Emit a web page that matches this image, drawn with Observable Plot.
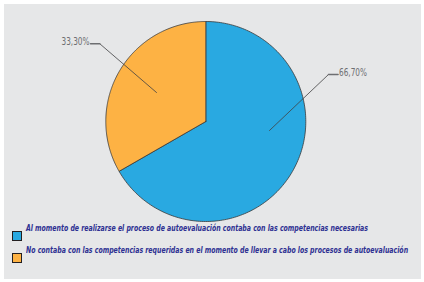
<!DOCTYPE html>
<html>
<head>
<meta charset="utf-8">
<script src="https://cdn.jsdelivr.net/npm/d3@7"></script>
<script src="https://cdn.jsdelivr.net/npm/@observablehq/plot@0.6"></script>
<style>
  html, body { margin: 0; padding: 0; background: #ffffff; }
  #wrap { position: relative; width: 424px; height: 282px; background: #ffffff; }
  #panel { position: absolute; left: 4px; top: 4px; width: 417px; height: 275px; background: #E6E7E8; overflow: hidden; }
  #panel svg { display: block; }
  .legend { position: absolute; left: 0; top: 218px; width: 417px; }
  .item { position: relative; height: 22px; }
  .item .txt { position: absolute; left: 22px; top: 1px; white-space: nowrap; transform-origin: 0 50%;
    font-family: "Liberation Sans Narrow", "DejaVu Sans Condensed", sans-serif; font-stretch: condensed;
    font-weight: bold; font-style: italic; font-size: 9.5px; color: #2E3192; line-height: 10px; }
  .item .sw { position: absolute; left: 8px; top: 9px; width: 8px; height: 8px; border: 1px solid #231F20; }
</style>
</head>
<body>
<div id="wrap"><div id="panel"><div id="chart"></div><div class="legend" id="legend"></div></div></div>
<script>
// Data
const categories = [
  "Al momento de realizarse el proceso de autoevaluación contaba con las competencias necesarias",
  "No contaba con las competencias requeridas en el momento de llevar a cabo los procesos de autoevaluación"
];
const values = [66.7, 33.3];
const valueLabels = ["66,70%", "33,30%"];
const colors = ["#29A9E1", "#FDB244"];
// Leader line anchor points in pie-radius units: [inner, elbow, end]
const leaderInner = [[0.637, -0.09], [-0.493, 0.29]];
const leaderElbow = [[1.227, 0.47], [-1.06, 0.777]];
const leaderEnd = [[1.322, 0.47], [-1.153, 0.777]];

const pie = d3.pie().sort(null).startAngle(0).endAngle(2 * Math.PI)(values);
const slicePts = [];
pie.forEach((s, i) => {
  slicePts.push({cat: categories[i], x: 0, y: 0});
  const n = 200;
  for (let k = 0; k <= n; k++) {
    const a = s.startAngle + (s.endAngle - s.startAngle) * k / n;
    slicePts.push({cat: categories[i], x: Math.sin(a), y: Math.cos(a)});
  }
  slicePts.push({cat: categories[i], x: 0, y: 0});
});
const diag = [], horiz = [], labels = [];
categories.forEach((c, i) => {
  diag.push({k: i, x: leaderInner[i][0], y: leaderInner[i][1]});
  diag.push({k: i, x: leaderElbow[i][0], y: leaderElbow[i][1]});
  horiz.push({k: i, x: leaderElbow[i][0], y: leaderElbow[i][1]});
  horiz.push({k: i, x: leaderEnd[i][0], y: leaderEnd[i][1]});
  labels.push({x: leaderEnd[i][0], y: leaderEnd[i][1], text: valueLabels[i], anchor: i === 0 ? "start" : "end"});
});

const font = '"Liberation Sans Narrow", "DejaVu Sans Condensed", sans-serif';
const chart = Plot.plot({
  width: 417, height: 218, margin: 0,
  style: {background: "transparent", fontFamily: font, overflow: "visible"},
  x: {domain: [-1, 1], range: [101.3, 301.3], axis: null},
  y: {domain: [-1, 1], range: [217, 17], axis: null},
  color: {domain: categories, range: colors},
  marks: [
    Plot.line(slicePts, {x: "x", y: "y", z: "cat", fill: "cat", stroke: "#3a3a3a", strokeWidth: 0.8, curve: "linear"}),
    Plot.line(diag, {x: "x", y: "y", z: "k", stroke: "#404041", strokeWidth: 0.8}),
    Plot.line(horiz, {x: "x", y: "y", z: "k", stroke: "#6D6E71", strokeWidth: 1.6}),
    Plot.text(labels.filter(d => d.anchor === "start"), {x: "x", y: "y", text: "text", textAnchor: "start", dx: 1, dy: -2, fontSize: 10, fill: "#6D6E71"}),
    Plot.text(labels.filter(d => d.anchor === "end"), {x: "x", y: "y", text: "text", textAnchor: "end", dx: -1, dy: -2, fontSize: 10, fill: "#6D6E71"})
  ]
});
document.getElementById("chart").appendChild(chart);
// compress value labels to the reference's condensed width
d3.select(chart).selectAll("text").each(function() {
  this.setAttribute("textLength", 28);
  this.setAttribute("lengthAdjust", "spacingAndGlyphs");
});

const leg = document.getElementById("legend");
const txts = [];
categories.forEach((c, i) => {
  const it = document.createElement("div");
  it.className = "item";
  it.innerHTML = `<div class="txt"></div><div class="sw" style="background:${colors[i]}"></div>`;
  it.querySelector(".txt").textContent = c;
  leg.appendChild(it);
  txts.push(it.querySelector(".txt"));
});
// fit first legend line to its reference width (342px), same factor for both
const w0 = txts[0].getBoundingClientRect().width;
const k = 342 / w0;
txts.forEach(t => t.style.transform = `scaleX(${k})`);
</script>
</body>
</html>
